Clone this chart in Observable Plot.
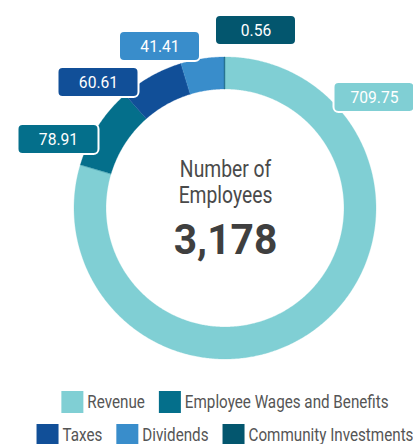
<!DOCTYPE html>
<html><head><meta charset="utf-8">
<script src="https://cdn.jsdelivr.net/npm/d3@7"></script>
<script src="https://cdn.jsdelivr.net/npm/@observablehq/plot@0.6"></script>
<style>
body{margin:0;background:#fff;font-family:Roboto,"Liberation Sans",sans-serif;}
#chart{width:413px;height:444px;overflow:hidden;}
#chart svg{display:block;}
</style></head><body><div id="chart"></div>
<script>
// ---- data ----
const categories = ["Revenue", "Employee Wages and Benefits", "Taxes", "Dividends", "Community Investments"];
const values = [709.75, 78.91, 60.61, 41.41, 0.56];
const valueLabels = ["709.75", "78.91", "60.61", "41.41", "0.56"];
const centerTitle = ["Number of", "Employees"];
const centerValue = ["3,178"];
const legendRows = [[0, 1], [2, 3, 4]];

// ---- style / layout ----
const colors = ["#80cfd4", "#046f8b", "#114f98", "#398dcb", "#03566e"];
const W = 413, H = 380, CX = 225, CY = 208, R_OUT = 151, R_IN = 119;
const labelOffsets = [[149, -111], [-167, -69], [-127, -126], [-65.5, -162], [30.5, -178]];
const BOX_W = 81, BOX_H = 30;

const total = d3.sum(values);
let acc = 0;
const slices = categories.map((c, i) => {
  const a0 = acc / total * 2 * Math.PI; acc += values[i];
  const a1 = acc / total * 2 * Math.PI;
  return {name: c, value: values[i], a0, a1};
});
const ring = [];
for (const s of slices) {
  const n = Math.max(2, Math.ceil((s.a1 - s.a0) / (Math.PI / 360)));
  for (let k = 0; k <= n; k++) {
    const a = s.a0 + (s.a1 - s.a0) * k / n;
    ring.push({name: s.name, ox: R_OUT * Math.sin(a), oy: -R_OUT * Math.cos(a), ix: R_IN * Math.sin(a), iy: -R_IN * Math.cos(a)});
  }
}
const labels = slices.map((s, i) => ({name: s.name, text: valueLabels[i], x: labelOffsets[i][0], y: labelOffsets[i][1]}));
const centerLines = [
  {t: centerTitle[0], y: -38.4},
  {t: centerTitle[1], y: -12.4}
];

const svg = Plot.plot({
  width: W, height: H,
  marginTop: 0, marginRight: 0, marginBottom: 0, marginLeft: 0,
  style: {fontFamily: "Roboto, 'Liberation Sans', sans-serif", background: "white"},
  x: {domain: [-CX, W - CX], range: [0, W], axis: null},
  y: {domain: [-CY, H - CY], range: [0, H], axis: null},
  color: {domain: categories, range: colors},
  marks: [
    Plot.area(ring, {x1: "ox", y1: "oy", x2: "ix", y2: "iy", fill: "name", z: "name", stroke: "name", strokeWidth: 0.3}),
    Plot.rect(labels, {x1: d => d.x - BOX_W / 2, x2: d => d.x + BOX_W / 2, y1: d => d.y - BOX_H / 2, y2: d => d.y + BOX_H / 2, fill: "name", stroke: "white", strokeWidth: 2, rx: 5}),
    Plot.text(labels, {x: "x", y: "y", text: "text", fill: "white", fontSize: 17}),
    Plot.text(centerLines, {x: () => 0, y: "y", text: "t", fontSize: 23, fill: "#4a4a4a"}),
    Plot.text(centerValue, {x: () => 0, y: () => 31.6, text: d => d, fontSize: 42, fontWeight: "bold", fill: "#3f3f3f"})
  ]
});
const chart = document.getElementById("chart");
chart.appendChild(svg);

// condense text horizontally around its own centre to mimic the narrow typeface
function condense(el, f, svgEl) {
  const sr = svgEl.getBoundingClientRect();
  const r = el.getBoundingClientRect();
  const anchor = el.getAttribute("text-anchor") || getComputedStyle(el).textAnchor;
  let cx;
  if (anchor === "middle") cx = (r.left + r.right) / 2 - sr.left;
  else if (anchor === "end") cx = r.right - sr.left;
  else cx = r.left - sr.left;
  // convert to the parent's coordinate system
  const m = el.parentNode.getCTM();
  const pt = svgEl.createSVGPoint(); pt.x = cx; pt.y = 0;
  const sm = svgEl.getCTM();
  const local = m ? pt.matrixTransform(sm ? sm.multiply(m.inverse()) : m.inverse()) : pt;
  const g = document.createElementNS("http://www.w3.org/2000/svg", "g");
  g.setAttribute("transform", `translate(${local.x},0) scale(${f},1) translate(${-local.x},0)`);
  el.parentNode.insertBefore(g, el);
  g.appendChild(el);
}
svg.querySelectorAll("text").forEach(el => {
  const fs = parseFloat(getComputedStyle(el).fontSize);
  condense(el, fs < 20 ? 0.92 : (fs > 30 ? 0.97 : 0.84), svg);
});

// ---- legend ----
const lg = d3.select(chart).append("svg").attr("width", W).attr("height", 64)
  .style("font-family", "Roboto, 'Liberation Sans', sans-serif");
const SW = 22, GAP_T = 4, GAP_I = 14, rowTop = [11, 44], LF = 0.845;
legendRows.forEach((row, r) => {
  const g = lg.append("g");
  let x = 0;
  row.forEach(i => {
    g.append("rect").attr("x", x).attr("y", rowTop[r]).attr("width", SW).attr("height", SW).attr("fill", colors[i]);
    const tx = x + SW + GAP_T;
    const t = g.append("g").attr("transform", `translate(${tx},0) scale(${LF},1) translate(${-tx},0)`)
      .append("text").attr("x", tx).attr("y", rowTop[r] + 17)
      .attr("font-size", 18).attr("fill", "#555").text(categories[i]);
    const w = t.node().getComputedTextLength() * LF;
    x += SW + GAP_T + w + GAP_I;
  });
  const rowW = x - GAP_I;
  g.attr("transform", `translate(${CX - rowW / 2},0)`);
});
</script></body></html>
